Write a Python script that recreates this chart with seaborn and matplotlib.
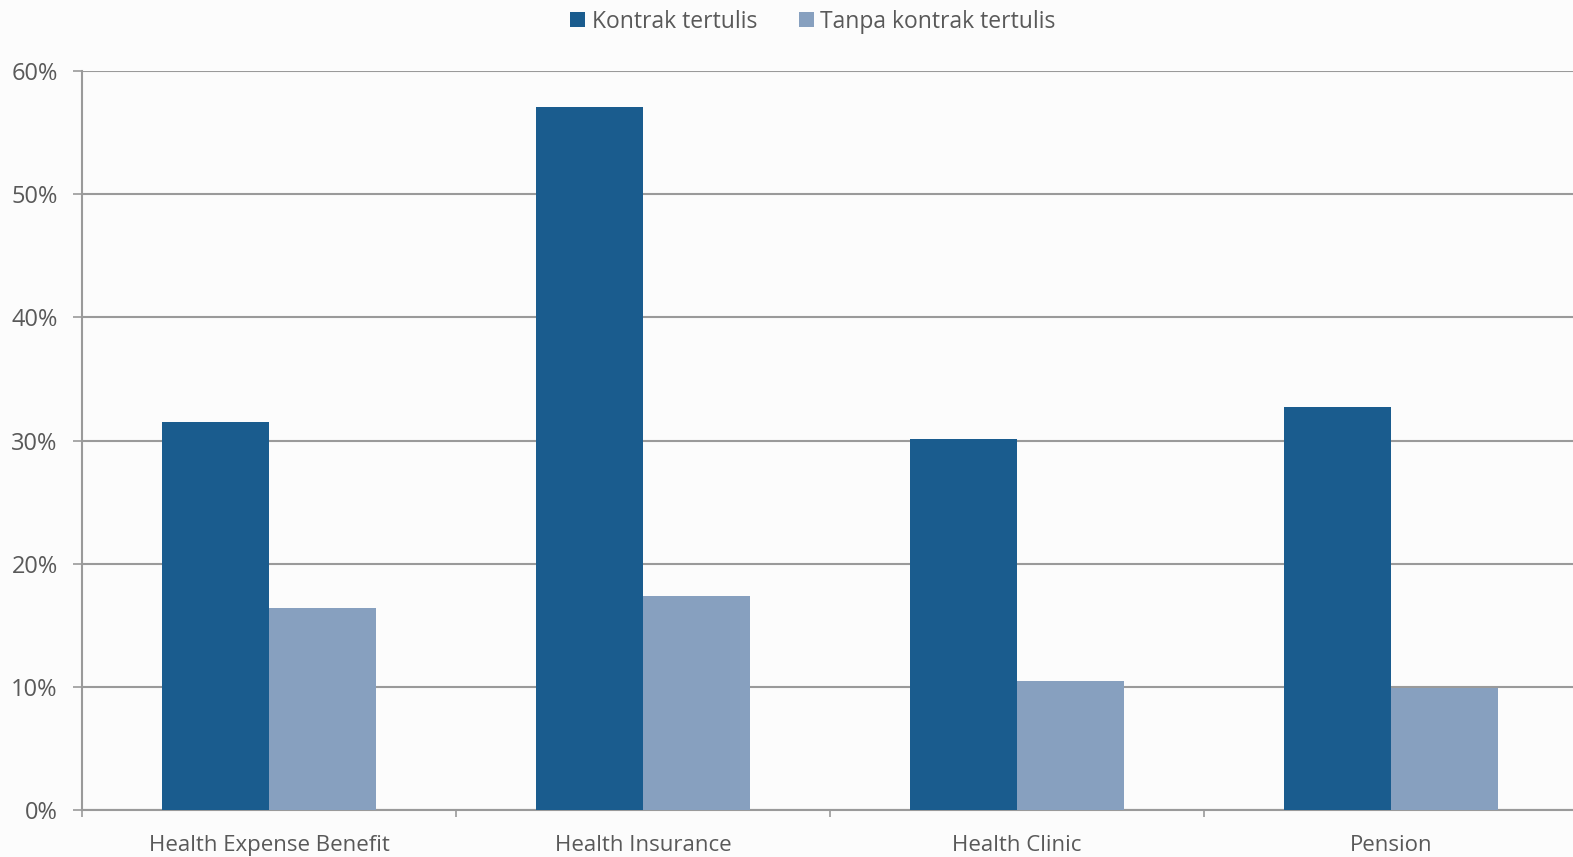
import matplotlib
matplotlib.use("Agg")
import matplotlib.pyplot as plt
import seaborn as sns
import pandas as pd
from matplotlib.ticker import FixedLocator, PercentFormatter

categories = ["Health Expense Benefit", "Health Insurance", "Health Clinic", "Pension"]
series_names = ["Kontrak tertulis", "Tanpa kontrak tertulis"]
kontrak = [31.5, 57.1, 30.1, 32.7]
tanpa_kontrak = [16.4, 17.4, 10.5, 9.9]
y_ticks = [0, 10, 20, 30, 40, 50, 60]

df = pd.DataFrame({
    "Kategori": categories * 2,
    "Seri": [series_names[0]] * len(categories) + [series_names[1]] * len(categories),
    "Nilai": kontrak + tanpa_kontrak,
})

sns.set_theme(style="white")
plt.rcParams["font.family"] = ["Open Sans", "DejaVu Sans"]

text_color = "#595959"
grid_color = "#9a9a9a"
bg = "#fcfcfc"

W, H = 1573, 857
fig = plt.figure(figsize=(W / 100, H / 100), dpi=100, facecolor=bg)
ax = fig.add_axes([82 / W, 1 - 810 / H, (1578 - 82) / W, (810 - 71) / H])
ax.set_facecolor(bg)

palette = {series_names[0]: "#1a5c8e", series_names[1]: "#87a0bf"}
sns.barplot(data=df, x="Kategori", y="Nilai", hue="Seri", palette=palette,
            width=0.572, saturation=1, linewidth=0, ax=ax, legend=True, zorder=3)

ax.set_ylim(0, 60)
ax.set_xlim(-0.5, 3.5)
ax.yaxis.set_major_locator(FixedLocator(y_ticks))
ax.yaxis.set_major_formatter(PercentFormatter(decimals=0))
ax.grid(axis="y", color=grid_color, linewidth=1.5, zorder=0)
ax.set_axisbelow(True)

# category boundary ticks on the x axis, labels centred between them
ax.xaxis.set_major_locator(FixedLocator([-0.5, 0.5, 1.5, 2.5, 3.5]))
ax.xaxis.set_minor_locator(FixedLocator(range(len(categories))))
ax.set_xticklabels([""] * 5)
ax.set_xticklabels(categories, minor=True)
ax.tick_params(axis="x", which="major", length=5, width=1.2, color=grid_color, direction="out", bottom=True)
ax.tick_params(axis="x", which="minor", length=0, pad=18, labelsize=16, labelcolor=text_color)
ax.tick_params(axis="y", length=6.5, width=1.2, color=grid_color, direction="out", left=True,
               labelsize=17, labelcolor=text_color, pad=11)

ax.set_xlabel("")
ax.set_ylabel("")
for side in ["top", "right"]:
    ax.spines[side].set_visible(False)
for side in ["left", "bottom"]:
    ax.spines[side].set_color(grid_color)
    ax.spines[side].set_linewidth(1.5)

handles, labels = ax.get_legend_handles_labels()
ax.get_legend().remove()
leg = fig.legend(handles, labels, loc="center", bbox_to_anchor=(813 / W, 1 - 21.5 / H),
                 ncol=2, frameon=False, fontsize=16.5, handlelength=0.65, handleheight=0.65,
                 handletextpad=0.3, columnspacing=1.8, labelcolor=text_color,
                 borderpad=0, borderaxespad=0)

fig.savefig("out.png", dpi=100, facecolor=bg)
